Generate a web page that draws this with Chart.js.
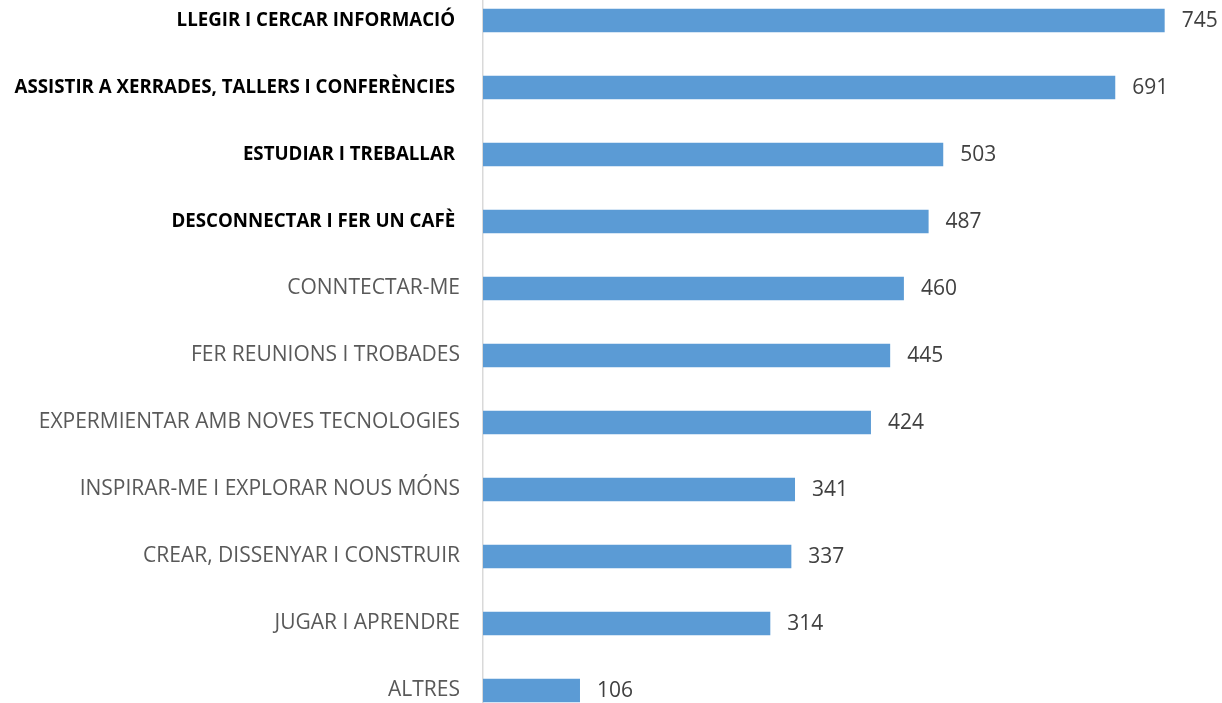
<!DOCTYPE html>
<html>
<head>
<meta charset="utf-8">
<script src="https://cdn.jsdelivr.net/npm/chart.js@4"></script>
<style>
  html, body { margin: 0; padding: 0; background: #fff; overflow: hidden; }
  #wrap { position: absolute; left: 0; top: -13px; width: 1222px; height: 737px; }
</style>
</head>
<body>
<div id="wrap"><canvas id="chart" width="1222" height="737"></canvas></div>
<script>
'use strict'

// categories, top to bottom (trailing space on the bold ones like the original)
const categories = [
  'LLEGIR I CERCAR INFORMACIÓ ',
  'ASSISTIR A XERRADES, TALLERS I CONFERÈNCIES ',
  'ESTUDIAR I TREBALLAR ',
  'DESCONNECTAR I FER UN CAFÈ ',
  'CONNTECTAR-ME',
  'FER REUNIONS I TROBADES',
  'EXPERMIENTAR AMB NOVES TECNOLOGIES',
  'INSPIRAR-ME I EXPLORAR NOUS MÓNS',
  'CREAR, DISSENYAR I CONSTRUIR',
  'JUGAR I APRENDRE',
  'ALTRES'
]
const values = [745, 691, 503, 487, 460, 445, 424, 341, 337, 314, 106]
// first four rows are highlighted in bold
const boldRows = [0, 1, 2, 3]

const valueLabels = {
  id: 'valueLabels',
  afterDatasetsDraw (chart) {
    const ctx = chart.ctx
    const meta = chart.getDatasetMeta(0)
    ctx.save()
    ctx.font = '21px "Open Sans"'
    ctx.fillStyle = '#404040'
    ctx.textAlign = 'left'
    ctx.textBaseline = 'middle'
    meta.data.forEach(function (bar, i) {
      ctx.fillText(String(values[i]), bar.x + 17, bar.y + 1)
    })
    ctx.restore()
  }
}

const ctx = document.getElementById('chart')
const myChart = new Chart(ctx, {
  type: 'bar',
  data: {
    labels: categories,
    datasets: [{
      label: 'respostes',
      data: values,
      backgroundColor: '#5b9bd5',
      borderWidth: 0,
      categoryPercentage: 0.35,
      barPercentage: 1
    }]
  },
  options: {
    indexAxis: 'y',
    responsive: false,
    animation: false,
    devicePixelRatio: 1,
    layout: { padding: { top: 0, bottom: 0, left: 0, right: 7 } },
    plugins: {
      legend: { display: false },
      tooltip: { enabled: false }
    },
    scales: {
      x: {
        display: false,
        min: 0,
        max: 800
      },
      y: {
        grid: { display: false, drawTicks: false },
        border: { display: true, color: '#d9d9d9', width: 1.5 },
        afterFit: function (scale) {
          scale.width = 483
          // tick padding would otherwise push the plot down from the top
          scale.paddingTop = 0
          scale.paddingBottom = 0
        },
        ticks: {
          padding: 23,
          color: function (c) {
            return boldRows.includes(c.index) ? '#000000' : '#595959'
          },
          font: function (c) {
            return {
              family: '"Open Sans"',
              size: boldRows.includes(c.index) ? 18.7 : 21,
              weight: boldRows.includes(c.index) ? 'bold' : 'normal'
            }
          }
        }
      }
    }
  },
  plugins: [valueLabels]
})
</script>
</body>
</html>
